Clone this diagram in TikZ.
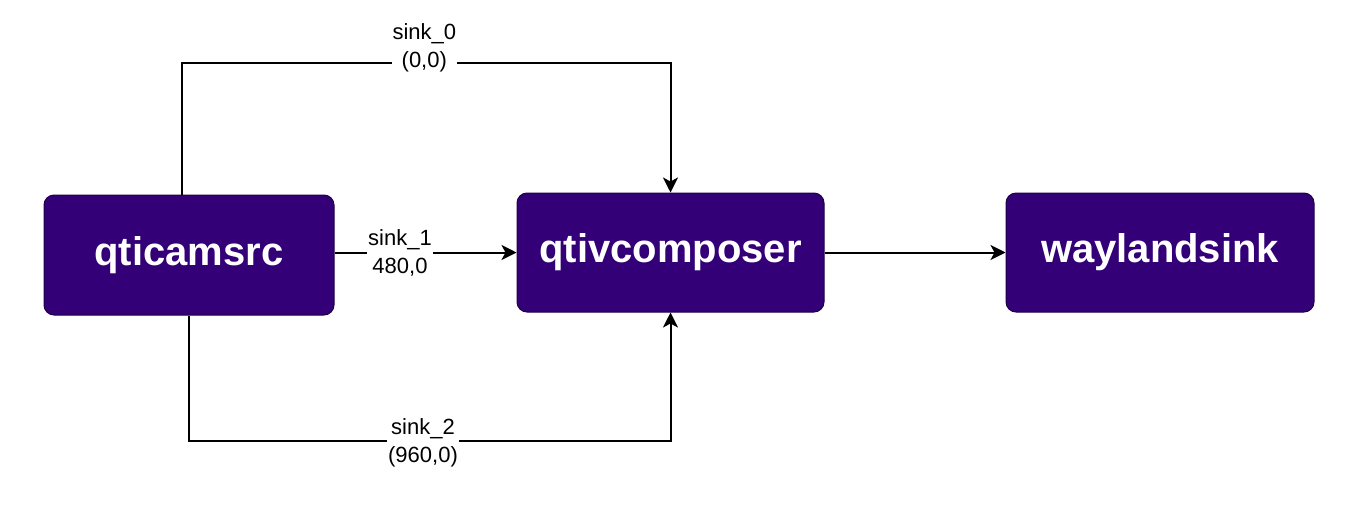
\documentclass[tikz,border=0pt]{standalone}
\usepackage{fontspec}
\setmainfont{Liberation Sans}
\usepackage{tikz}
\usetikzlibrary{arrows.meta}
\definecolor{boxfill}{HTML}{330077}
\definecolor{boxline}{HTML}{1E0048}

\begin{document}
\begin{tikzpicture}[x=1pt,y=-1pt]
\tikzset{ElementStyle/.style={draw=boxline, line width=1pt, fill=boxfill, rounded corners=10pt,
    text=white, font=\fontsize{40}{44}\selectfont\bfseries}}
\tikzset{PadStyle/.style={fill=white, align=center, inner sep=1pt,
    font=\fontsize{22}{28}\selectfont}}
\tikzset{LinkStyle/.style={line width=2pt, -{Stealth[length=15pt,width=15pt,inset=4pt]}}}
\useasboundingbox (0,0) rectangle (1352,507);
\node[ElementStyle, minimum width=290pt, minimum height=120pt] (src) at (189,255) {qticamsrc};
\node[ElementStyle, minimum width=307pt, minimum height=119pt] (comp) at (670.5,252.5) {qtivcomposer};
\node[ElementStyle, minimum width=308pt, minimum height=119pt] (sink) at (1160,252.5) {waylandsink};
\draw[LinkStyle] ([xshift=-7pt]src.north) -- ++(0,-132) -| node[PadStyle, pos=0.248, yshift=15pt] (pad0) {sink\_0\\(0,0)} (comp.north);
\draw[LinkStyle] (src.east |- comp.west) -- node[PadStyle, pos=0.36] (pad1) {sink\_1\\480,0} (comp.west);
\draw[LinkStyle] (src.south) -- ++(0,125) -| node[PadStyle, pos=0.243, yshift=-2pt] (pad2) {sink\_2\\(960,0)} (comp.south);
\draw[LinkStyle] (comp.east) -- (sink.west);
\end{tikzpicture}
\end{document}
